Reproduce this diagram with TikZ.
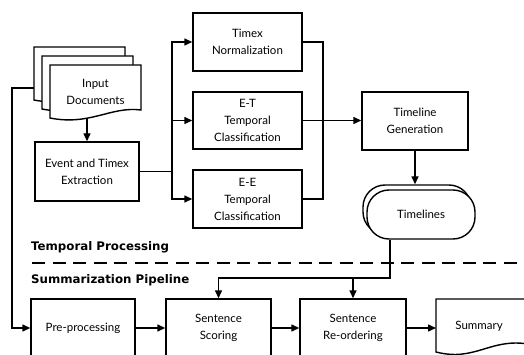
\documentclass[tikz,border=0pt]{standalone}
\usepackage{fontspec}
\setmainfont{Lato}
\newfontfamily\ttlfont{DejaVu Sans}
\usetikzlibrary{arrows.meta,calc}
\begin{document}
\begin{tikzpicture}[x=1pt,y=-1pt,
  every node/.style={font=\fontsize{11.5}{17}\selectfont},
  ln/.style={line width=1.4pt},
  arr/.style={ln,-{Triangle[length=8pt,width=7pt]}},
  box/.style={draw,ln,align=center,inner sep=0pt,fill=white},
  ttl/.style={font=\ttlfont\fontsize{11.8}{14}\selectfont\bfseries,anchor=west,inner sep=0pt}]
\useasboundingbox (0,0) rectangle (524,355);
\clip (0,0) rectangle (524,355);

% input documents stack
\foreach \dx/\dy in {34/47,42/56,50/65}{
  \draw[ln,fill=white] (\dx,\dy) -- ++(91,0) -- ++(0,45)
    .. controls +(-30,-4) and +(40,8) .. ++(-91,8) -- cycle;
}
\node[inner sep=0pt,minimum width=91pt,minimum height=54pt,align=center] (doc) at (95.5,92) {Input\\Documents};
\coordinate (back) at (34,88);

\node[box,minimum width=104pt,minimum height=59pt] (event) at (87,171.5) {Event and Timex\\Extraction};

\node[box,minimum width=109pt,minimum height=58pt] (timex) at (247.5,42) {Timex\\Normalization};
\node[box,minimum width=109pt,minimum height=57pt] (et) at (247.5,120.5) {E-T\\Temporal\\Classification};
\node[box,minimum width=109pt,minimum height=58pt] (ee) at (247.5,199) {E-E\\Temporal\\Classification};

\node[box,minimum width=106pt,minimum height=58pt] (tg) at (415,121) {Timeline\\Generation};

\node[draw,ln,fill=white,rounded corners=22pt,minimum width=108pt,minimum height=49pt] (tlback) at (417,209.5) {};
\node[draw,ln,fill=white,rounded corners=22pt,minimum width=108pt,minimum height=49pt] (tl) at (421,214.5) {Timelines};

% titles and separator
\node[ttl] (tp) at (31,247) {Temporal Processing};
\node[ttl] (sp) at (31,280) {Summarization Pipeline};
\coordinate (dl) at (32,263);
\coordinate (dr) at (530,263);
\draw[line width=2.6pt,dash pattern=on 13pt off 7.5pt] (dl) -- (dr);

% bottom pipeline
\node[box,minimum width=104pt,minimum height=58pt] (pre) at (83,328) {Pre-processing};
\node[box,minimum width=105pt,minimum height=58pt] (scor) at (218.5,328) {Sentence\\Scoring};
\node[box,minimum width=106pt,minimum height=58pt] (reord) at (353,328) {Sentence\\Re-ordering};
\draw[ln,fill=white] (436,299) -- (528,299) -- (528,344)
  .. controls (490,338) and (475,362) .. (436,352) -- cycle;
\node[inner sep=0pt,minimum width=87pt,minimum height=20pt] (sum) at (479,326) {Summary};
\coordinate (sumw) at (436,328);

% connectors
\draw[arr] (back) -- ++(-22,0) |- (pre.west);
\draw[arr] (event.north |- doc.south) -- (event.north);
\coordinate (split) at (172,171.5);
\draw[ln] (event.east) -- (split);
\draw[arr] (split) |- (timex.west);
\draw[arr] (split) |- (et.west);
\draw[arr] (split) |- (ee.west);
\coordinate (merge) at (323,120.5);
\draw[ln] (timex.east) -| (merge);
\draw[ln] (ee.east) -| (merge);
\draw[arr] (et.east) -- (et.east -| tg.west);
\draw[arr] (tg.south) -- (tg.south |- tlback.north);
\coordinate (j) at (390,278);
\draw[arr] (tl.south -| j) -- (j) -| (scor.north);
\draw[arr] (reord.north |- j) -- (reord.north);
\draw[arr] (pre.east) -- (scor.west);
\draw[arr] (scor.east) -- (reord.west);
\draw[arr] (reord.east) -- (sumw);
\end{tikzpicture}
\end{document}
